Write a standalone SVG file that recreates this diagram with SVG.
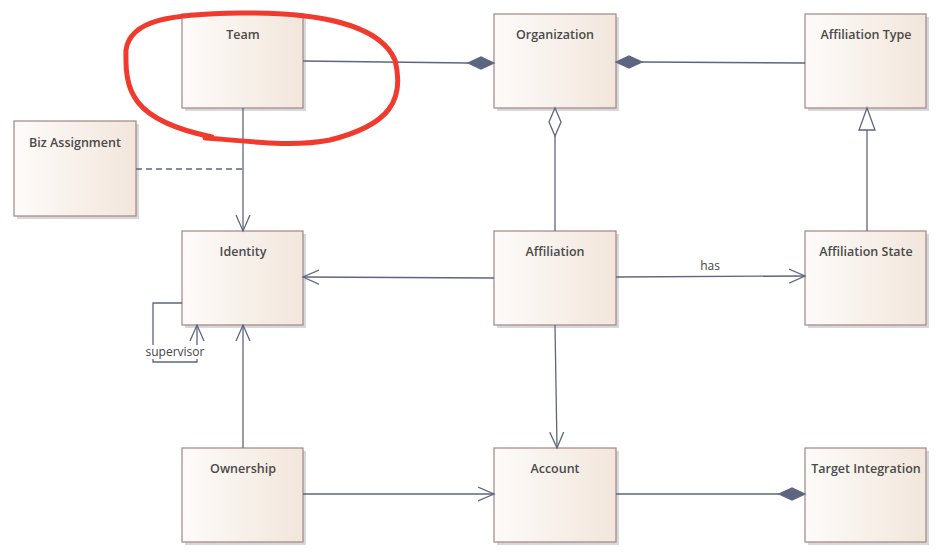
<svg xmlns="http://www.w3.org/2000/svg" width="945" height="560" viewBox="0 0 945 560">
<style>
.n rect.b{fill:url(#g);stroke:#a08585;stroke-width:1.2}
.n rect.s{fill:#d8d8d8}
.n text{font-family:"Open Sans","Liberation Sans",sans-serif;font-size:12.5px;font-weight:600;fill:#4a4a4a;text-anchor:middle}
.c path,.c line{stroke:#5d6680;stroke-width:1.3;fill:none}
.c .fd{fill:#5d6680}
.c .hd{fill:#fff}
.lbl{font-family:"Open Sans","Liberation Sans",sans-serif;font-size:12px;fill:#444;text-anchor:middle}
</style>
<defs>
<linearGradient id="g" x1="0" x2="1" y1="0" y2="0"><stop offset="0" stop-color="#fdfbf9"/><stop offset="1" stop-color="#f2e6dc"/></linearGradient>
<marker id="ar" markerWidth="18" markerHeight="16" refX="16" refY="8" orient="auto" markerUnits="userSpaceOnUse"><path d="M0,1 L16,8 L0,15" fill="none" stroke="#5d6680" stroke-width="1.3"/></marker>
</defs>
<g class="n" id="team"><rect class="s" x="185" y="17" width="121" height="94"/><rect class="b" x="182" y="14" width="121" height="94"/><text x="243" y="39">Team</text></g>
<g class="n" id="organization"><rect class="s" x="497" y="17" width="122" height="94"/><rect class="b" x="494" y="14" width="122" height="94"/><text x="555" y="39">Organization</text></g>
<g class="n" id="affiliationtype"><rect class="s" x="808" y="17" width="121" height="94"/><rect class="b" x="805" y="14" width="121" height="94"/><text x="866" y="39">Affiliation Type</text></g>
<g class="n" id="bizassignment"><rect class="s" x="17" y="124" width="122" height="95"/><rect class="b" x="14" y="121" width="122" height="95"/><text x="75" y="147">Biz Assignment</text></g>
<g class="n" id="identity"><rect class="s" x="185" y="234" width="121" height="94"/><rect class="b" x="182" y="231" width="121" height="94"/><text x="243" y="256">Identity</text></g>
<g class="n" id="affiliation"><rect class="s" x="497" y="234" width="122" height="94"/><rect class="b" x="494" y="231" width="122" height="94"/><text x="555" y="256">Affiliation</text></g>
<g class="n" id="affiliationstate"><rect class="s" x="808" y="234" width="121" height="94"/><rect class="b" x="805" y="231" width="121" height="94"/><text x="866" y="256">Affiliation State</text></g>
<g class="n" id="ownership"><rect class="s" x="185" y="451" width="121" height="94"/><rect class="b" x="182" y="448" width="121" height="94"/><text x="243" y="473">Ownership</text></g>
<g class="n" id="account"><rect class="s" x="497" y="451" width="122" height="94"/><rect class="b" x="494" y="448" width="122" height="94"/><text x="555" y="473">Account</text></g>
<g class="n" id="targetintegration"><rect class="s" x="808" y="451" width="121" height="94"/><rect class="b" x="805" y="448" width="121" height="94"/><text x="866" y="473">Target Integration</text></g>
<g class="c" id="connectors">
<line x1="303" y1="61" x2="468" y2="63"/><path class="fd" d="M494,63 L481,57 L468,63 L481,69 Z"/>
<line x1="642" y1="62" x2="805" y2="63"/><path class="fd" d="M616,62 L629,56 L642,62 L629,68 Z"/>
<line x1="555" y1="136" x2="555" y2="231"/><path class="hd" d="M555,108 L561,122 L555,136 L549,122 Z"/>
<line x1="867" y1="130" x2="867" y2="231"/><path class="hd" d="M867,108 L875,130 L859,130 Z"/>
<line x1="243" y1="108" x2="243" y2="231" marker-end="url(#ar)"/>
<line x1="136" y1="169" x2="243" y2="169" stroke-dasharray="6,4"/>
<line x1="494" y1="278" x2="303" y2="277" marker-end="url(#ar)"/>
<line x1="616" y1="277" x2="805" y2="276" marker-end="url(#ar)"/>
<path d="M182,303 L153,303 L153,362 L197,362 L197,325" marker-end="url(#ar)"/>
<line x1="243" y1="448" x2="243" y2="325" marker-end="url(#ar)"/>
<line x1="555" y1="325" x2="557" y2="448" marker-end="url(#ar)"/>
<line x1="303" y1="494" x2="494" y2="494" marker-end="url(#ar)"/>
<line x1="616" y1="494" x2="779" y2="494"/><path class="fd" d="M805,494 L792,488 L779,494 L792,500 Z"/>
</g>
<rect x="146" y="345" width="58" height="14" fill="#fff"/>
<text class="lbl" x="175" y="356">supervisor</text>
<text class="lbl" x="710" y="270">has</text>
<path d="M212,137 C130,120 125,90 126,50 C130,20 170,14 240,13 C320,12 380,25 395,60 C405,100 390,125 330,140 C290,148 240,140 205,138" fill="none" stroke="#f03a2e" stroke-width="5" stroke-linecap="round"/>
</svg>
